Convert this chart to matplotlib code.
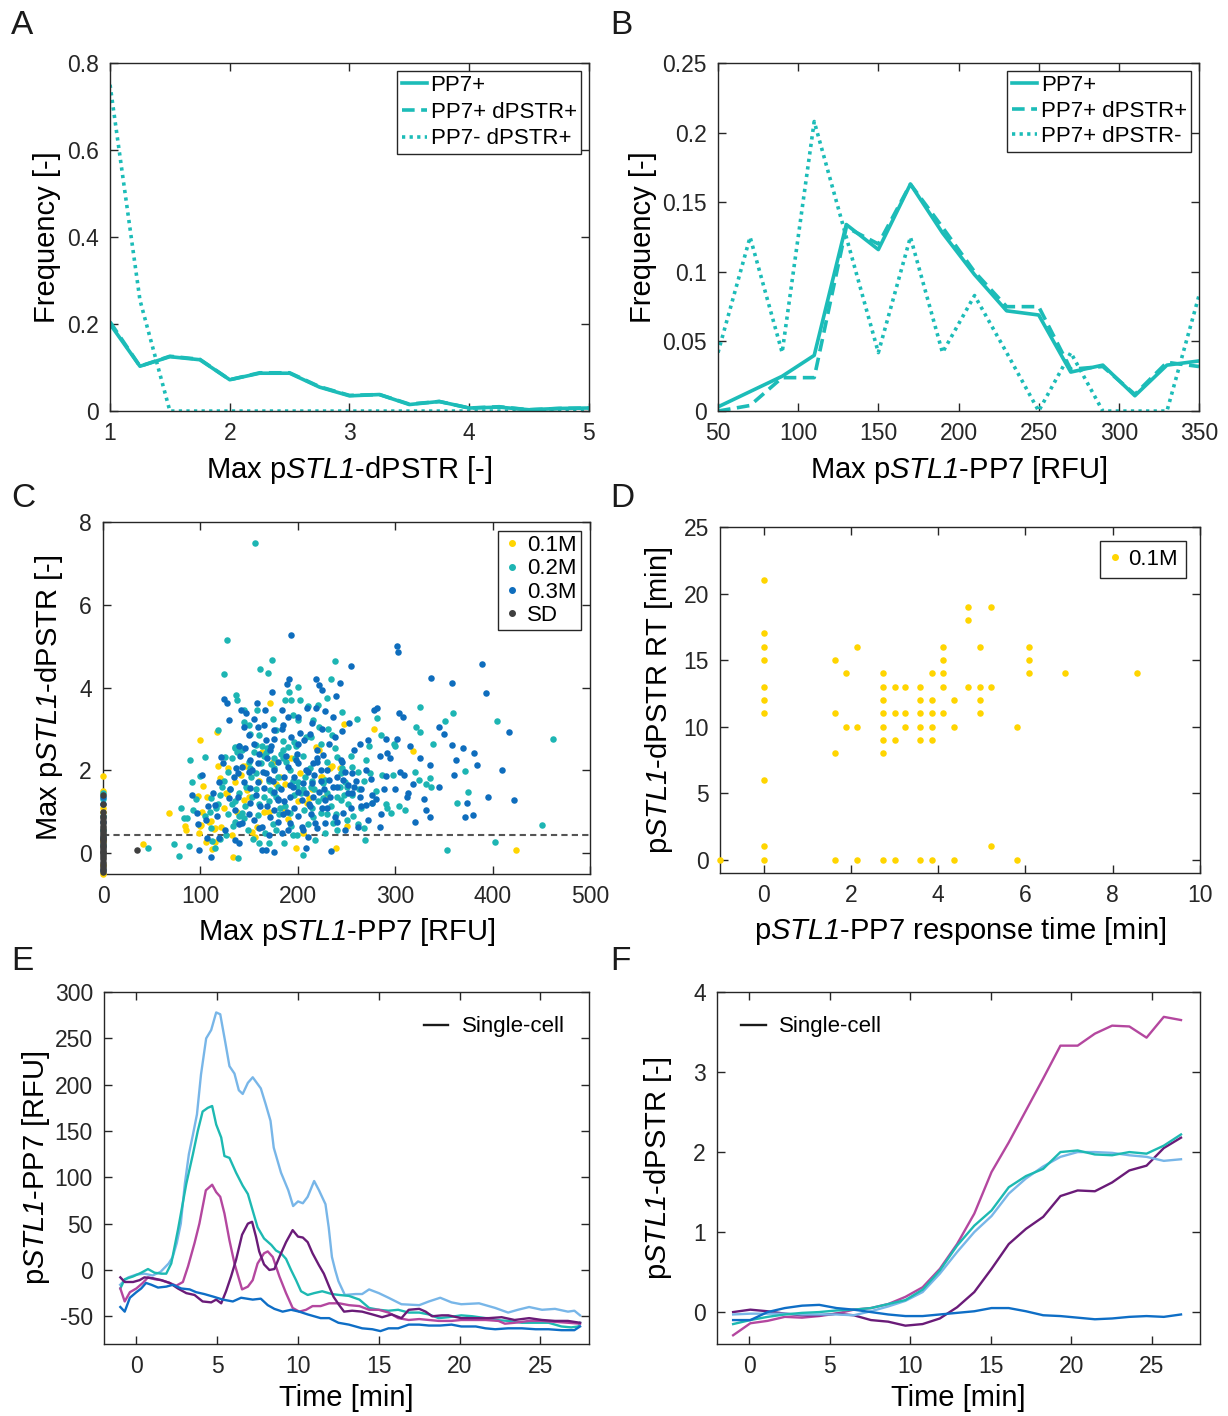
import matplotlib
matplotlib.use("Agg")
import matplotlib.pyplot as plt
from matplotlib.lines import Line2D

plt.rcParams['font.family'] = ['Liberation Sans', 'DejaVu Sans']
plt.rcParams['mathtext.fontset'] = 'custom'
plt.rcParams['mathtext.rm'] = 'Liberation Sans'
plt.rcParams['mathtext.it'] = 'Liberation Sans:italic'
plt.rcParams['mathtext.cal'] = 'Liberation Sans:italic'
plt.rcParams['axes.edgecolor'] = '#262626'
plt.rcParams['xtick.color'] = '#262626'
plt.rcParams['ytick.color'] = '#262626'
plt.rcParams['axes.unicode_minus'] = False

# ---------------- Panel A data ----------------
a_x = [1, 1.25, 1.5, 1.75, 2, 2.25, 2.5, 2.75, 3, 3.25, 3.5, 3.75, 4, 4.25, 4.5, 4.75, 5]
a_pp7 = [0.200, 0.103, 0.125, 0.118, 0.072, 0.087, 0.087, 0.055, 0.035, 0.038, 0.015, 0.022, 0.007, 0.009, 0.003, 0.006, 0.007]
a_pp7_dpstr = [0.205, 0.103, 0.126, 0.119, 0.072, 0.088, 0.088, 0.056, 0.036, 0.038, 0.016, 0.022, 0.007, 0.010, 0.003, 0.006, 0.007]
a_pp7neg_dpstr = [0.750, 0.255, 0, 0, 0, 0, 0, 0, 0, 0, 0, 0, 0, 0, 0, 0, 0]
a_labels = ['PP7+', 'PP7+ dPSTR+', 'PP7- dPSTR+']

# ---------------- Panel B data ----------------
b_x = [50, 70, 90, 110, 130, 150, 170, 190, 210, 230, 250, 270, 290, 310, 330, 350]
b_pp7 = [0.003, 0.014, 0.025, 0.040, 0.134, 0.116, 0.163, 0.128, 0.098, 0.072, 0.069, 0.028, 0.033, 0.011, 0.033, 0.036]
b_pp7_dpstr = [0.000, 0.004, 0.024, 0.024, 0.132, 0.120, 0.163, 0.132, 0.100, 0.075, 0.075, 0.030, 0.032, 0.012, 0.035, 0.032]
b_pp7_dpstrneg = [0.042, 0.125, 0.042, 0.208, 0.125, 0.042, 0.125, 0.042, 0.083, 0.042, 0.000, 0.042, 0.000, 0.000, 0.000, 0.083]
b_labels = ['PP7+', 'PP7+ dPSTR+', 'PP7+ dPSTR-']

# ---------------- Panel C data ----------------
c_labels = ['0.1M', '0.2M', '0.3M', 'SD']
c01_x = [0, 0, 0, 0, 0, 0, 0,
         41, 68, 84, 85, 100, 102, 103, 100, 99, 107, 109, 114, 117, 120, 124, 126, 133, 135, 145,
         147, 171, 182, 198, 202, 209, 219, 222, 233, 224, 239, 247, 278, 318, 424,
         98, 111, 115, 148, 190, 158, 101, 106, 115, 112, 121, 127, 142, 144, 153, 156, 165, 170,
         178, 187, 200, 211, 225, 235,
         150, 160, 163, 175, 185, 193, 205, 215, 228, 243, 250, 138, 128, 132, 118]
c01_y = [1.87, 1.50, 1.10, 1.00, 0.30, -0.28, -0.50,
         0.22, 0.97, 0.67, 0.55, 2.73, 0.99, 1.63, 0.67, 0.48, 1.37, 0.75, 0.59, 2.93, 1.81, 1.09, 1.45, -0.08, 1.73, 1.29,
         2.11, 3.62, 1.85, 0.12, 1.93, 1.21, 2.57, 2.49, 2.07, 1.83, 0.12, 3.12, 2.99, 2.48, 0.08,
         1.39, 0.77, 0.60, 1.53, 0.83, 0.64, 0.69, 0.28, 0.28, 0.10, 0.64, 1.43, 1.90, 2.10, 0.52, 0.40, 1.00, 1.00,
         1.67, 1.67, 1.25, 1.33, 1.85, 2.10,
         1.35, 1.75, 2.45, 2.20, 1.10, 2.30, 0.50, 1.55, 1.35, 2.05, 0.65, 1.00, 2.05, 0.45, 2.10]
c02_x = [0, 0, 0, 0, 0,
         156, 127, 124, 173, 161, 169, 238, 234, 137, 138, 187, 193, 200, 191, 202, 221, 245, 261, 281,
         325, 351, 359, 404, 462, 339, 321, 325, 299, 286, 298, 324, 336, 337, 332, 304, 296, 292, 372,
         375, 363, 451, 402, 353, 269, 268, 205, 218, 186, 170, 139, 78, 73, 46, 89, 105, 91, 100, 80,
         83, 88, 111, 115, 126, 135, 116, 111, 118, 125, 135, 143, 145, 151, 157, 162, 167, 176, 178,
         180, 190, 196, 200, 208, 216, 224, 231, 235, 240, 244, 248, 256, 262, 274, 276, 236, 240, 226,
         216, 206, 196, 192, 178, 159, 153, 147, 143, 171, 182, 157, 151, 200, 214, 228, 256, 224, 244,
         130, 150, 165, 185, 205, 215, 170, 160, 140, 195, 210, 230, 250, 265, 175, 155, 185, 120, 132, 198,
         135, 140, 138, 132, 128, 122, 118, 110, 105, 95, 92, 86, 150, 158, 163, 168, 172, 176, 183, 188,
         192, 195, 199, 203, 207, 212, 217, 221, 226, 230, 234, 239, 243, 247, 252, 257, 263, 268, 273, 285,
         290, 300, 310, 145, 149, 154, 160, 166, 174, 181, 187, 193, 199, 210, 215, 228, 240, 250, 128, 133,
         140, 146, 152, 165, 170, 180, 185, 205, 213, 222, 238, 255, 160, 175, 195, 210, 230, 145, 120, 112,
         230, 262, 280, 320, 270, 245, 197, 178, 157, 136, 124]
c02_y = [1.45, 1.30, 0.90, 0.55, 0.20,
         7.49, 5.14, 4.34, 4.66, 4.46, 4.36, 4.64, 4.20, 3.82, 3.70, 3.70, 3.70, 4.02, 3.90, 3.70, 3.58, 3.40, 3.24, 3.26,
         3.52, 3.20, 3.38, 3.20, 2.77, 2.65, 3.04, 2.93, 2.63, 1.89, 1.89, 1.77, 1.82, 1.61, 1.67, 1.13, 0.96, 1.09, 1.99,
         1.47, 1.21, 0.68, 0.28, 0.08, 0.32, 0.60, -0.04, 0.32, 0.24, 0.24, -0.12, -0.06, 0.23, 0.12, 2.25, 2.33, 1.73, 1.87, 1.09,
         0.84, 0.18, 0.60, 0.12, 0.44, 0.76, 1.09, 1.33, 2.97, 2.33, 2.57, 2.49, 3.18, 2.89, 2.61, 2.17, 2.41, 2.29, 2.97,
         1.85, 2.57, 2.69, 3.22, 2.81, 3.22, 2.65, 3.01, 2.85, 2.33, 1.93, 1.73, 2.09, 1.97, 1.93, 1.21, 0.72, 1.37, 1.33,
         0.88, 1.05, 1.41, 0.96, 0.56, 0.92, 1.37, 1.61, 0.96, 1.53, 1.09, 1.93, 2.05, 1.73, 1.61, 1.77, 1.41, 0.96, 1.29,
         1.55, 2.20, 2.35, 2.30, 1.55, 1.75, 1.25, 1.20, 0.90, 0.45, 2.00, 2.20, 1.60, 1.10, 1.45, 2.45, 2.50, 1.40, 1.20, 2.60,
         2.55, 2.60, 2.45, 2.30, 1.95, 1.60, 1.20, 1.00, 0.90, 1.30, 1.05, 0.85, 3.10, 3.45, 2.60, 2.55, 2.15, 2.05, 2.40, 2.20,
         2.00, 1.75, 1.60, 1.45, 1.85, 2.05, 1.55, 1.25, 1.70, 1.45, 1.15, 0.95, 1.60, 1.40, 1.20, 0.90, 1.55, 1.75, 2.60, 2.85,
         1.20, 2.60, 1.05, 0.85, 0.55, 0.35, 0.25, 0.50, 0.70, 0.95, 1.15, 0.65, 0.45, 0.70, 1.10, 0.50, 0.55, 0.80, 0.95, 0.65,
         1.45, 1.15, 1.85, 1.35, 1.75, 1.60, 2.70, 2.35, 2.80, 3.05, 2.55, 2.35, 2.85, 3.25, 3.35, 3.55, 3.75, 3.45, 0.35, 0.30,
         0.95, 0.70, 1.50, 1.95, 2.25, 2.05, 2.30, 1.35, 1.55, 1.25, 1.75]
c03_x = [0, 0, 0, 0, 0,
         193, 302, 303, 255, 389, 337, 358, 393, 219, 222, 225, 243, 191, 189, 239, 173, 124, 127, 158,
         166, 184, 190, 209, 219, 228, 236, 253, 278, 281, 304, 308, 345, 350, 417, 381, 384, 336, 358,
         362, 302, 290, 284, 292, 309, 318, 291, 312, 313, 320, 332, 336, 372, 380, 374, 422, 272, 284,
         262, 276, 276, 270, 234, 208, 176, 163, 167, 111, 99, 107, 106, 115, 91, 96, 119, 121, 123, 129,
         142, 147, 159, 155, 167, 171, 176, 184, 193, 200, 206, 212, 220, 226, 232, 238, 151, 143, 139,
         145, 151, 159, 165, 176, 180, 176, 171, 163, 155, 143, 135, 129, 139, 151, 186, 192, 200, 204,
         196, 192, 204, 212, 216, 222, 228, 232, 240, 246, 252, 258, 264, 246, 238, 228, 218, 208, 216,
         224, 200, 190, 176, 167, 159, 258, 264, 256, 248, 272, 184, 135, 140, 119,
         150, 170, 188, 210, 230, 160, 180, 198, 215, 245, 140, 168, 205, 220, 185,
         130, 134, 137, 141, 146, 150, 153, 157, 161, 164, 168, 172, 176, 180, 183, 186, 189, 192, 196, 199,
         202, 205, 208, 211, 214, 217, 220, 224, 227, 230, 233, 236, 240, 244, 248, 252, 256, 260, 265, 270,
         275, 280, 288, 295, 305, 315, 325, 345, 160, 170, 180, 190, 200, 210, 220, 240, 150, 140, 125, 117,
         113, 108, 102, 98, 145, 155, 165, 185, 200, 215, 225, 245, 175, 195, 225, 255, 265, 285, 300, 330,
         360, 370, 395, 410]
c03_y = [1.35, 1.20, 0.75, 0.40, -0.40,
         5.27, 5.01, 4.86, 4.52, 4.58, 4.24, 4.12, 3.87, 4.20, 4.06, 3.95, 4.12, 4.20, 4.08, 3.79, 3.90, 3.72, 3.63, 3.63,
         3.46, 3.46, 3.30, 3.50, 3.50, 3.44, 3.28, 3.14, 3.46, 3.50, 3.39, 3.30, 3.05, 2.89, 2.93, 2.43, 2.13, 2.13, 2.61,
         2.25, 2.77, 2.77, 2.36, 2.41, 1.89, 1.67, 1.87, 1.37, 1.45, 0.76, 1.05, 0.88, 0.87, 0.92, 1.21, 1.29, 0.80, 0.63,
         0.64, 1.41, 1.21, 1.17, 0.06, 0.12, 0.04, 0.08, 0.08, -0.08, 0.08, 0.36, 0.80, 1.17, 1.41, 0.96, 1.73, 2.33, 2.19, 3.22,
         3.46, 3.38, 3.05, 2.65, 2.73, 2.49, 2.97, 2.99, 2.81, 2.65, 2.73, 2.89, 2.49, 2.37, 2.65, 2.81, 2.25, 2.09, 1.93,
         1.73, 1.57, 1.73, 1.57, 1.49, 1.29, 1.05, 0.88, 0.64, 0.80, 0.72, 1.05, 1.33, 1.37, 1.21, 1.85, 1.65, 1.49, 1.29,
         1.09, 0.72, 0.64, 1.13, 1.37, 1.49, 1.29, 1.77, 1.61, 1.77, 1.45, 1.61, 1.37, 0.96, 0.88, 0.72, 0.72, 2.01, 2.17,
         2.01, 2.17, 2.09, 2.01, 1.93, 2.17, 2.49, 2.65, 1.93, 0.56, 2.73, 0.48, 0.32, 0.24, 0.36,
         1.95, 1.80, 2.35, 1.95, 1.10, 2.40, 1.30, 2.25, 1.70, 2.20, 2.60, 1.15, 0.55, 2.30, 0.95,
         1.55, 1.85, 2.05, 2.35, 2.55, 2.85, 2.00, 1.40, 1.15, 1.95, 2.30, 2.60, 2.75, 2.20, 1.55, 1.25, 1.00, 1.35, 1.85, 2.40,
         2.90, 1.70, 1.45, 1.20, 0.95, 1.90, 2.20, 1.75, 1.55, 2.00, 1.35, 1.60, 1.85, 2.25, 1.95, 1.65, 1.45, 1.75, 1.55, 2.00,
         1.80, 1.30, 1.55, 2.30, 1.95, 2.60, 2.30, 1.60, 0.60, 0.45, 0.75, 0.55, 0.90, 0.40, 0.60, 0.75, 0.95, 0.70, 0.55, 0.90,
         1.45, 1.15, 1.90, 0.70, 3.05, 3.25, 3.10, 3.10, 3.30, 3.15, 3.00, 2.95, 1.75, 1.60, 1.10, 1.10, 1.15, 0.95, 1.55, 1.30,
         1.90, 2.55, 1.35, 2.00]
csd_x = [0, 0, 0, 0, 0, 0, 0, 0, 0, 0, 0, 0, 0, 0, 0, 0, 0, 0, 0, 0, 0, 0, 0, 0, 0, 0, 0, 0, 0, 0, 0, 0, 0, 35]
csd_y = [-0.45, -0.40, -0.35, -0.30, -0.25, -0.20, -0.15, -0.10, -0.05, 0.00, 0.03, 0.06, 0.10, 0.14, 0.18,
         0.22, 0.27, 0.32, 0.37, 0.42, 0.47, 0.52, 0.57, 0.62, 0.67, 0.72, 0.78, 0.84, 0.90, 1.00, 1.20, 1.40, 0.35, 0.07]
c_threshold = 0.45

# ---------------- Panel D data ----------------
d_x = [-1, 0, 0, 0, 0, 0, 0, 0, 0, 0, 0,
       1.64, 1.64, 1.64, 1.64, 1.89, 1.89, 2.13, 2.13, 2.13,
       2.74, 2.74, 2.74, 2.74, 2.74, 2.74, 2.74, 2.74, 3.0, 3.0, 3.0, 3.0, 3.25, 3.25, 3.25,
       3.58, 3.58, 3.58, 3.58, 3.58, 3.58, 3.87, 3.87, 3.87, 3.87, 3.87, 3.87,
       4.12, 4.12, 4.12, 4.12, 4.12, 4.37, 4.37, 4.37, 4.69, 4.69, 4.69,
       4.97, 4.97, 4.97, 4.97, 5.22, 5.22, 5.22, 5.80, 5.80, 6.09, 6.09, 6.09, 6.91, 8.56]
d_y = [0, 21, 17, 16, 15, 13, 12, 11, 6, 1, 0,
       15, 11, 8, 0, 14, 10, 16, 10, 0,
       14, 13, 12, 11, 10, 9, 8, 0, 13, 11, 9, 0, 13, 11, 10,
       13, 12, 11, 10, 9, 0, 14, 12, 11, 10, 9, 0,
       16, 15, 14, 13, 11, 12, 10, 0, 19, 18, 13,
       16, 13, 12, 11, 19, 13, 1, 10, 0, 16, 15, 14, 14, 14]
d_label = '0.1M'

# ---------------- Panel E data ----------------
e_lb_t = [-1.0, -0.72, -0.5, 0, 0.5, 1.0, 1.5, 2.0, 2.25, 2.5, 2.75, 3.0, 3.25, 3.5, 3.75, 4.0, 4.32, 4.63, 4.94, 5.19,
          5.5, 5.76, 6.07, 6.34, 6.58, 6.9, 7.2, 7.7, 8.0, 8.3, 8.5, 8.95, 9.4, 9.7, 10.0, 10.3, 10.6, 11.0, 11.3, 11.7,
          11.9, 12.1, 12.3, 12.5, 12.9, 13.56, 13.97, 14.4, 15.0, 15.6, 16.4, 17.5, 18.1, 18.8, 19.5, 20.1, 21.2, 22.2,
          23.0, 23.6, 24.3, 25.1, 25.9, 26.7, 27.1, 27.45]
e_lb_v = [-16, -11, -8, -5, -4, -6, -2, 7, 14, 29, 50, 93, 125, 146, 168, 211, 250, 259, 278, 276,
          246, 220, 212, 194, 190, 202, 208, 196, 179, 161, 132, 105, 86, 69, 74, 72, 79, 96, 86, 71,
          46, 14, 0, -12, -27, -26, -26, -21, -25, -30, -37, -38, -34, -30, -35, -37, -36, -41,
          -46, -43, -40, -43, -42, -45, -44, -49]
e_tl_t = [-0.99, -0.72, -0.2, 0.3, 0.72, 1.13, 1.54, 1.85, 2.16, 2.57, 3.09, 3.5, 3.8, 4.1, 4.42, 4.69, 4.94, 5.25,
          5.45, 5.76, 6.17, 6.58, 6.9, 7.2, 7.5, 7.9, 8.35, 8.64, 8.95, 9.26, 9.57, 9.88, 10.19, 10.6, 11.0, 11.5,
          12.1, 12.55, 13.15, 13.8, 14.4, 15.0, 15.6, 16.2, 16.85, 17.5, 18.1, 18.7, 19.3, 20.1, 20.8, 21.6, 22.2,
          23.0, 23.85, 24.7, 25.5, 26.3, 26.9, 27.35, 27.45]
e_tl_v = [-20, -10, -7, -3, 1, -3, -4, -4, 7, 43, 93, 125, 150, 171, 175, 177, 157, 143,
          123, 121, 105, 91, 82, 64, 46, 34, 27, 21, 18, 12, 0, -11, -23, -27, -25, -23,
          -26, -27, -28, -32, -41, -43, -44, -43, -46, -46, -48, -52, -51, -49, -50, -52, -54,
          -55, -57, -57, -57, -61, -62, -61, -57]
e_mg_t = [-0.99, -0.72, -0.4, 0, 0.4, 0.72, 1.13, 1.54, 2.06, 2.47, 2.88, 3.2, 3.6, 3.9, 4.3, 4.69, 4.94, 5.19, 5.45,
          5.76, 6.07, 6.54, 6.9, 7.2, 7.5, 7.9, 8.13, 8.44, 8.85, 9.26, 9.67, 10.08, 10.5, 10.9, 11.4, 11.93, 12.55,
          13.15, 13.8, 14.4, 15.0, 15.6, 16.2, 16.85, 17.5, 18.1, 18.7, 19.5, 20.1, 21.0, 21.6, 22.4, 22.8, 23.4,
          24.3, 25.1, 25.9, 26.7, 27.45]
e_mg_v = [-20, -34, -24, -20, -14, -8, -10, -11, -14, -17, -13, 4, 29, 50, 86, 92, 84, 79, 61,
          32, 7, -21, -18, -11, 7, 18, 20, 14, -7, -25, -41, -45, -43, -39, -39, -36, -36,
          -38, -39, -43, -43, -46, -52, -54, -53, -54, -55, -55, -54, -54, -54, -55, -58, -57,
          -55, -55, -56, -57, -58]
e_pu_t = [-0.99, -0.72, -0.2, 0.2, 0.5, 1.03, 1.54, 2.06, 2.57, 3.09, 3.6, 4.1, 4.63, 4.94, 5.25, 5.55, 5.86, 6.17,
          6.54, 6.9, 7.16, 7.4, 7.6, 7.9, 8.23, 8.54, 8.85, 9.26, 9.67, 10.0, 10.3, 10.6, 10.9, 11.3, 11.6, 11.93,
          12.2, 12.55, 12.85, 13.35, 13.97, 14.6, 15.2, 15.8, 16.4, 16.85, 17.5, 17.9, 18.3, 18.9, 19.3, 20.1, 21.0,
          21.8, 22.6, 23.4, 24.3, 25.1, 25.9, 26.7, 27.45]
e_pu_v = [-8, -13, -13, -11, -8, -9, -11, -14, -20, -25, -27, -34, -35, -32, -36, -23, -7, 11,
          38, 50, 52, 36, 20, 6, 0, 1, 14, 30, 43, 36, 35, 30, 18, 5, -4, -18,
          -29, -38, -45, -44, -45, -48, -51, -48, -52, -43, -42, -45, -50, -49, -49, -52, -52,
          -52, -51, -54, -52, -54, -55, -55, -57]
e_bl_t = [-0.99, -0.72, -0.4, 0, 0.3, 0.6, 0.93, 1.34, 1.85, 2.26, 2.78, 3.3, 3.7, 4.2, 4.8, 5.35, 5.97, 6.48, 7.2,
          7.7, 8.13, 8.54, 9.05, 9.57, 10.08, 10.6, 11.0, 11.4, 11.93, 12.5, 13.15, 13.97, 14.6, 15.1, 15.6, 16.2,
          16.85, 17.5, 18.1, 18.8, 19.5, 20.1, 21.0, 21.6, 22.2, 23.0, 23.85, 24.7, 25.5, 26.3, 27.1, 27.45]
e_bl_v = [-40, -45, -30, -24, -20, -14, -16, -19, -18, -16, -20, -21, -24, -26, -29, -32, -34, -30, -32,
          -31, -38, -42, -45, -43, -45, -48, -50, -52, -52, -57, -59, -63, -64, -66, -63, -63,
          -59, -59, -60, -60, -59, -61, -61, -63, -64, -63, -63, -64, -64, -65, -65, -61]

# ---------------- Panel F data ----------------
f_t = [-1.0, 0.07, 1.14, 2.21, 3.28, 4.35, 5.42, 6.49, 7.56, 8.63, 9.70, 10.77, 11.84, 12.91, 13.98, 15.05,
       16.12, 17.19, 18.26, 19.33, 20.40, 21.47, 22.54, 23.61, 24.68, 25.75, 26.82]
f_mg = [-0.29, -0.14, -0.11, -0.06, -0.07, -0.05, -0.02, 0.03, 0.05, 0.10, 0.19, 0.31, 0.54, 0.85, 1.23, 1.75,
        2.12, 2.52, 2.92, 3.33, 3.33, 3.48, 3.58, 3.57, 3.43, 3.69, 3.65]
f_tl = [-0.15, -0.10, -0.06, -0.03, -0.01, 0.00, 0.02, 0.03, 0.05, 0.10, 0.15, 0.28, 0.52, 0.83, 1.08, 1.27,
        1.56, 1.70, 1.79, 2.00, 2.02, 1.97, 1.96, 2.00, 1.98, 2.08, 2.22]
f_lb = [-0.03, -0.02, -0.02, -0.02, -0.03, -0.03, -0.03, -0.04, 0.01, 0.07, 0.14, 0.25, 0.48, 0.75, 1.00, 1.20,
        1.48, 1.67, 1.82, 1.94, 2.00, 2.00, 1.99, 1.96, 1.94, 1.89, 1.91]
f_pu = [0.00, 0.03, 0.01, -0.02, -0.04, -0.04, -0.02, -0.04, -0.10, -0.12, -0.17, -0.15, -0.08, 0.06, 0.25, 0.54,
        0.85, 1.04, 1.19, 1.45, 1.52, 1.51, 1.62, 1.77, 1.83, 2.05, 2.18]
f_bl = [-0.10, -0.10, 0.00, 0.05, 0.08, 0.09, 0.05, 0.03, 0.00, -0.03, -0.05, -0.05, -0.03, -0.01, 0.01, 0.05,
        0.05, 0.01, -0.04, -0.05, -0.07, -0.09, -0.08, -0.06, -0.05, -0.06, -0.03]

# ---------------- styles ----------------
TEAL = '#1CBCB8'
YEL = '#FFD500'
C_TEAL = '#1DB5B3'
C_BLUE = '#0E6DBD'
C_SD = '#3F3F3F'
L_LB = '#78B6E8'
L_TL = '#1DB9B2'
L_MG = '#B4479F'
L_PU = '#6A1B78'
L_BL = '#0E6EC6'

TICK_FS = 16.5
LAB_FS = 21
LEG_FS = 16

fig = plt.figure(figsize=(12.28, 14.16), dpi=100)


def style(ax):
    ax.tick_params(direction='in', length=6, width=1, top=True, right=True,
                   labelsize=TICK_FS, pad=8)
    for s in ax.spines.values():
        s.set_linewidth(1.0)


def stl(pre, post):
    return pre + r'$\mathcal{STL1}$' + post


# ---- Panel A ----
axA = fig.add_axes([0.0896, 0.7097, 0.3900, 0.2458])
axA.plot(a_x, a_pp7, color=TEAL, lw=2.6, ls='-', label=a_labels[0])
axA.plot(a_x, a_pp7_dpstr, color=TEAL, lw=2.6, ls=(0, (3.5, 1.8)), label=a_labels[1])
axA.plot(a_x, a_pp7neg_dpstr, color=TEAL, lw=2.6, ls=(0, (0.9, 1.2)), label=a_labels[2])
axA.set_xlim(1, 5)
axA.set_ylim(0, 0.8)
axA.set_xticks([1, 2, 3, 4, 5])
axA.set_yticks([0, 0.2, 0.4, 0.6, 0.8])
axA.set_yticklabels(['0', '0.2', '0.4', '0.6', '0.8'])
axA.set_xlabel(stl('Max p', '-dPSTR [-]'), fontsize=LAB_FS, labelpad=6)
axA.set_ylabel('Frequency [-]', fontsize=LAB_FS, labelpad=4)
style(axA)
legA = axA.legend(loc='upper right', fontsize=LEG_FS, handlelength=1.15, handletextpad=0.15,
                  labelspacing=0.25, borderpad=0.2, borderaxespad=0.35, fancybox=False,
                  edgecolor='#262626', framealpha=1)
legA.get_frame().set_linewidth(1.0)

# ---- Panel B ----
axB = fig.add_axes([0.5847, 0.7097, 0.3917, 0.2458])
axB.plot(b_x, b_pp7, color=TEAL, lw=2.6, ls='-', label=b_labels[0])
axB.plot(b_x, b_pp7_dpstr, color=TEAL, lw=2.6, ls=(0, (3.5, 1.8)), label=b_labels[1])
axB.plot(b_x, b_pp7_dpstrneg, color=TEAL, lw=2.6, ls=(0, (0.9, 1.2)), label=b_labels[2])
axB.set_xlim(50, 350)
axB.set_ylim(0, 0.25)
axB.set_xticks([50, 100, 150, 200, 250, 300, 350])
axB.set_yticks([0, 0.05, 0.1, 0.15, 0.2, 0.25])
axB.set_yticklabels(['0', '0.05', '0.1', '0.15', '0.2', '0.25'])
axB.set_xlabel(stl('Max p', '-PP7 [RFU]'), fontsize=LAB_FS, labelpad=6)
axB.set_ylabel('Frequency [-]', fontsize=LAB_FS, labelpad=4)
style(axB)
legB = axB.legend(loc='upper right', fontsize=LEG_FS, handlelength=1.15, handletextpad=0.15,
                  labelspacing=0.2, borderpad=0.2, borderaxespad=0.35, fancybox=False,
                  edgecolor='#262626', framealpha=1)
legB.get_frame().set_linewidth(1.0)

# ---- Panel C ----
axC = fig.add_axes([0.0839, 0.3828, 0.3966, 0.2486])
MS = 22
axC.scatter(c01_x, c01_y, s=MS, color=YEL, linewidths=0, clip_on=False, zorder=3)
axC.scatter(c02_x, c02_y, s=MS, color=C_TEAL, linewidths=0, clip_on=False, zorder=3)
axC.scatter(c03_x, c03_y, s=MS, color=C_BLUE, linewidths=0, clip_on=False, zorder=3)
axC.scatter(csd_x, csd_y, s=MS, color=C_SD, linewidths=0, clip_on=False, zorder=3)
axC.axhline(c_threshold, color='#555555', lw=1.5, ls=(0, (3, 2)), zorder=2)
axC.set_xlim(0, 500)
axC.set_ylim(-0.5, 8)
axC.set_xticks([0, 100, 200, 300, 400, 500])
axC.set_yticks([0, 2, 4, 6, 8])
axC.set_xlabel(stl('Max p', '-PP7 [RFU]'), fontsize=LAB_FS, labelpad=6)
axC.set_ylabel(stl('Max p', '-dPSTR [-]'), fontsize=LAB_FS, labelpad=10)
style(axC)
hC = [Line2D([], [], ls='none', marker='o', ms=4, color=c) for c in [YEL, C_TEAL, C_BLUE, C_SD]]
legC = axC.legend(hC, c_labels, loc='upper right', fontsize=LEG_FS, handlelength=0.8,
                  handletextpad=0.3, labelspacing=0.1, borderpad=0.2, borderaxespad=0.4,
                  fancybox=False, edgecolor='#262626', framealpha=1)
legC.get_frame().set_linewidth(1.0)

# ---- Panel D ----
axD = fig.add_axes([0.5863, 0.3835, 0.3909, 0.2443])
axD.scatter(d_x, d_y, s=MS, color=YEL, linewidths=0, clip_on=False, zorder=3)
axD.set_xlim(-1, 10)
axD.set_ylim(-1, 25)
axD.set_xticks([0, 2, 4, 6, 8, 10])
axD.set_yticks([0, 5, 10, 15, 20, 25])
axD.set_xlabel(stl('p', '-PP7 response time [min]'), fontsize=LAB_FS, labelpad=6)
axD.set_ylabel(stl('p', '-dPSTR RT [min]'), fontsize=LAB_FS, labelpad=6)
style(axD)
hD = [Line2D([], [], ls='none', marker='o', ms=4, color=YEL)]
legD = axD.legend(hD, [d_label], loc='upper right', fontsize=LEG_FS, handlelength=0.6,
                  handletextpad=0.3, borderpad=0.35, borderaxespad=0.65,
                  fancybox=False, edgecolor='#262626', framealpha=1)
legD.get_frame().set_linewidth(1.0)

# ---- Panel E ----
axE = fig.add_axes([0.0847, 0.0508, 0.3949, 0.2486])
LW = 1.7
axE.plot(e_lb_t, e_lb_v, color=L_LB, lw=LW)
axE.plot(e_tl_t, e_tl_v, color=L_TL, lw=LW)
axE.plot(e_mg_t, e_mg_v, color=L_MG, lw=LW)
axE.plot(e_pu_t, e_pu_v, color=L_PU, lw=LW)
axE.plot(e_bl_t, e_bl_v, color=L_BL, lw=LW)
axE.set_xlim(-2, 28)
axE.set_ylim(-80, 300)
axE.set_xticks([0, 5, 10, 15, 20, 25])
axE.set_yticks([-50, 0, 50, 100, 150, 200, 250, 300])
axE.set_xlabel('Time [min]', fontsize=LAB_FS, labelpad=4)
axE.set_ylabel(stl('p', '-PP7 [RFU]'), fontsize=LAB_FS, labelpad=2)
style(axE)
hE = [Line2D([], [], color='#1a1a1a', lw=1.7)]
axE.legend(hE, ['Single-cell'], loc='upper right', fontsize=LEG_FS, handlelength=1.1,
           handletextpad=0.6, frameon=False, borderaxespad=0.7)

# ---- Panel F ----
axF = fig.add_axes([0.5839, 0.0508, 0.3933, 0.2486])
axF.plot(f_t, f_mg, color=L_MG, lw=LW)
axF.plot(f_t, f_pu, color=L_PU, lw=LW)
axF.plot(f_t, f_lb, color=L_LB, lw=LW)
axF.plot(f_t, f_tl, color=L_TL, lw=LW)
axF.plot(f_t, f_bl, color=L_BL, lw=LW)
axF.set_xlim(-2, 28)
axF.set_ylim(-0.4, 4)
axF.set_xticks([0, 5, 10, 15, 20, 25])
axF.set_yticks([0, 1, 2, 3, 4])
axF.set_xlabel('Time [min]', fontsize=LAB_FS, labelpad=4)
axF.set_ylabel(stl('p', '-dPSTR [-]'), fontsize=LAB_FS, labelpad=14)
style(axF)
hF = [Line2D([], [], color='#1a1a1a', lw=1.7)]
axF.legend(hF, ['Single-cell'], loc='upper left', fontsize=LEG_FS, handlelength=1.1,
           handletextpad=0.6, frameon=False, borderaxespad=0.7)

# ---- panel letters ----
for lab, x, y in [('A', 0.009, 0.993), ('B', 0.497, 0.993), ('C', 0.009, 0.659),
                  ('D', 0.497, 0.659), ('E', 0.009, 0.332), ('F', 0.497, 0.332)]:
    fig.text(x, y, lab, fontsize=24, va='top', ha='left', color='#1a1a1a')

fig.savefig('out.png', dpi=100)
